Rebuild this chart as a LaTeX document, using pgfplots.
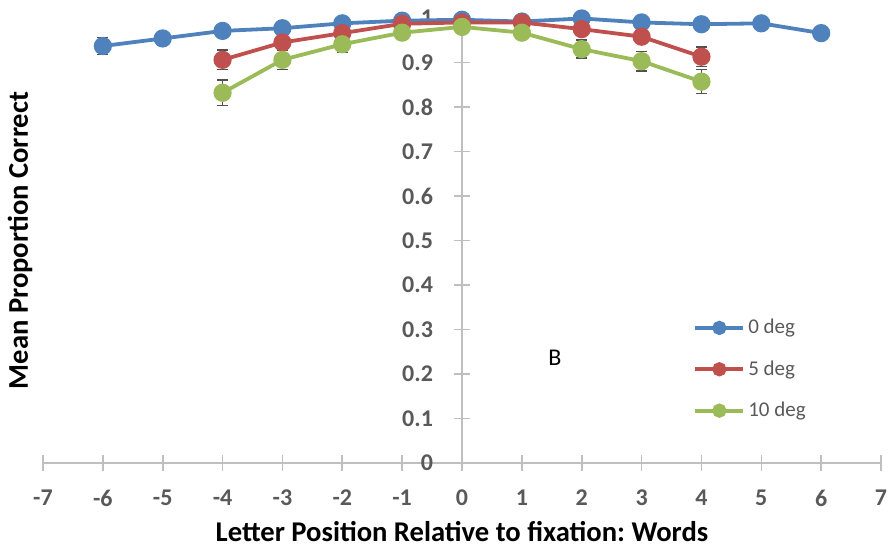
\documentclass[border=0pt]{standalone}
\usepackage{pgfplots}
\pgfplotsset{compat=1.18}
\usepackage{fontspec}
\setmainfont{Carlito}
\frenchspacing
\definecolor{cblue}{HTML}{4F81BD}
\definecolor{cred}{HTML}{C0504D}
\definecolor{cgreen}{HTML}{9BBB59}
\definecolor{tgray}{HTML}{595959}
\definecolor{agray}{HTML}{BFBFBF}
\definecolor{egray}{HTML}{505050}
\begin{document}
\begin{tikzpicture}
\useasboundingbox (-21.5pt,-44pt) rectangle (424.5pt,231.5pt);
\begin{axis}[
  at={(0,0)}, anchor=south west,
  scale only axis, width=419pt, height=222.5pt,
  xmin=-7, xmax=7, ymin=0, ymax=1,
  axis lines=middle,
  axis line style={agray, line width=0.8pt, -},
  clip=false,
  hide obscured x ticks=false, hide obscured y ticks=false,
  xtick={-7,-6,...,7},
  ytick={0,0.1,0.2,0.3,0.4,0.5,0.6,0.7,0.8,0.9,1},
  yticklabels={0,0.1,0.2,0.3,0.4,0.5,0.6,0.7,0.8,0.9,1},
  major tick length=8pt, tick align=center,
  tick style={agray, line width=0.8pt},
  /pgf/number format/assume math mode=true,
  ticklabel style={font=\fontsize{12}{14}\selectfont\bfseries, text=tgray},
  xticklabel style={anchor=center, yshift=-13.5pt},
  yticklabel style={anchor=east, xshift=-7pt},
  xlabel={Letter Position Relative to fixation: Words},
  ylabel={Mean Proportion Correct},
  label style={font=\fontsize{14.3}{16}\selectfont\bfseries, text=black},
  xlabel style={at={(axis description cs:0.5,-0.155)}, anchor=center},
  ylabel style={at={(axis description cs:-0.0274,0.5)}, anchor=center, rotate=90},
  legend style={at={(axis cs:3.76,0.34)}, anchor=north west, draw=none, fill=none,
    font=\fontsize{10.5}{12}\selectfont, text=tgray, row sep=8.9pt,
    nodes={inner sep=1.5pt}},
  legend cell align=left,
  legend image code/.code={
    \draw[#1, mark=none] (0pt,0pt) -- (24pt,0pt);
    \draw[#1, only marks, mark size=2.6pt] plot coordinates {(12pt,0pt)};
  },
  every axis plot/.append style={line width=1.9pt, mark=*, mark size=3.6pt},
  error bars/error bar style={egray, line width=0.75pt},
  error bars/error mark options={rotate=90, egray, mark size=2.7pt, line width=0.75pt},
]
\addplot[cblue, mark options={fill=cblue, draw=cblue}, error bars/.cd, y dir=both, y explicit]
 coordinates {
 (-6,0.937) +- (0,0.019)
 (-5,0.954) +- (0,0.016)
 (-4,0.971) +- (0,0.011)
 (-3,0.977) +- (0,0.010)
 (-2,0.988) +- (0,0.005)
 (-1,0.994) +- (0,0.004)
 (0,0.996) +- (0,0.004)
 (1,0.992) +- (0,0.004)
 (2,0.999) +- (0,0.003)
 (3,0.990) +- (0,0.005)
 (4,0.986) +- (0,0.005)
 (5,0.988) +- (0,0.004)
 (6,0.966) +- (0,0.010)
 };
\addlegendentry{0 deg}
\addplot[cred, mark options={fill=cred, draw=cred}, error bars/.cd, y dir=both, y explicit]
 coordinates {
 (-4,0.906) +- (0,0.022)
 (-3,0.945) +- (0,0.013)
 (-2,0.966) +- (0,0.010)
 (-1,0.987) +- (0,0.005)
 (0,0.990) +- (0,0.004)
 (1,0.990) +- (0,0.004)
 (2,0.975) +- (0,0.010)
 (3,0.958) +- (0,0.015)
 (4,0.913) +- (0,0.022)
 };
\addlegendentry{5 deg}
\addplot[cgreen, mark options={fill=cgreen, draw=cgreen}, error bars/.cd, y dir=both, y explicit]
 coordinates {
 (-4,0.832) +- (0,0.029)
 (-3,0.906) +- (0,0.022)
 (-2,0.941) +- (0,0.018)
 (-1,0.967) +- (0,0.010)
 (0,0.980) +- (0,0.006)
 (1,0.967) +- (0,0.008)
 (2,0.930) +- (0,0.020)
 (3,0.903) +- (0,0.022)
 (4,0.857) +- (0,0.027)
 };
\addlegendentry{10 deg}
\node[font=\fontsize{12}{14}\selectfont] at (axis cs:1.55,0.236) {B};
\end{axis}
\end{tikzpicture}
\end{document}
